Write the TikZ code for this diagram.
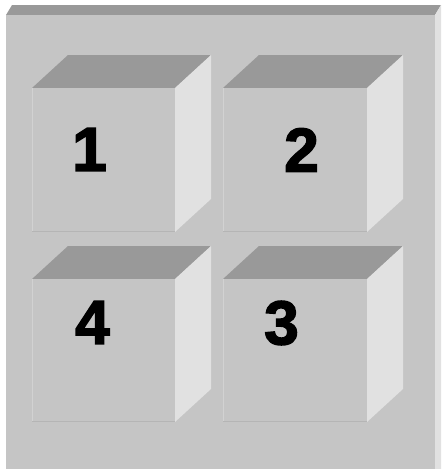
\documentclass[tikz,border=0pt]{standalone}
\usepackage{fontspec}
\setmainfont{Liberation Sans}
\newfontfamily\heavyfont[FakeBold=2.5]{Liberation Sans Bold}
\definecolor{frontc}{HTML}{C5C5C5}
\definecolor{topc}{HTML}{999999}
\definecolor{sidec}{HTML}{E1E1E1}
\definecolor{hilitec}{HTML}{D2D2D2}
\definecolor{shadec}{HTML}{B5B5B5}
\tikzset{
  frontface/.style={fill=frontc},
  topface/.style={fill=topc},
  sideface/.style={fill=sidec},
  digit/.style={inner sep=0pt, anchor=center, font=\fontsize{62}{62}\heavyfont, text=black},
}
% cube: front-left-top corner x,y ; width w ; height h
\newcommand{\mycube}[4]{%
  \fill[topface] (#1,#2) -- ++(#3,0) -- ++(36,-33) -- ++(-#3,0) -- cycle;
  \fill[sideface] (#1+#3,#2) -- ++(36,-33) -- ++(0,#4) -- ++(-36,33) -- cycle;
  \fill[frontface] (#1,#2) rectangle ++(#3,#4);
  \draw[draw=hilitec, line width=1pt] (#1+0.5,#2) -- ++(0,#4);
  \draw[draw=shadec, line width=1pt] (#1,#2+#4-0.5) -- ++(#3,0);
}
\begin{document}
\begin{tikzpicture}[x=1pt,y=-1pt]
\useasboundingbox (0,0) rectangle (443,469);
\fill[white] (0,0) rectangle (443,469);
% outer box
\fill[topface] (6,15) -- (435,15) -- (441,5) -- (12,5) -- cycle;
\fill[sideface] (435,15) -- (441,5) -- (441,469) -- (435,469) -- cycle;
\fill[frontface] (6,15) rectangle (435,469);
% cubes
\mycube{32}{88}{143}{144}
\mycube{223}{88}{144}{144}
\mycube{32}{279}{143}{143}
\mycube{223}{279}{144}{143}
% digits
\node[digit] (n1) at (89.5,149.5) {1};
\node[digit] (n2) at (301.5,150) {2};
\node[digit] (n4) at (92.5,322.5) {4};
\node[digit] (n3) at (281.5,323) {3};
\end{tikzpicture}
\end{document}
